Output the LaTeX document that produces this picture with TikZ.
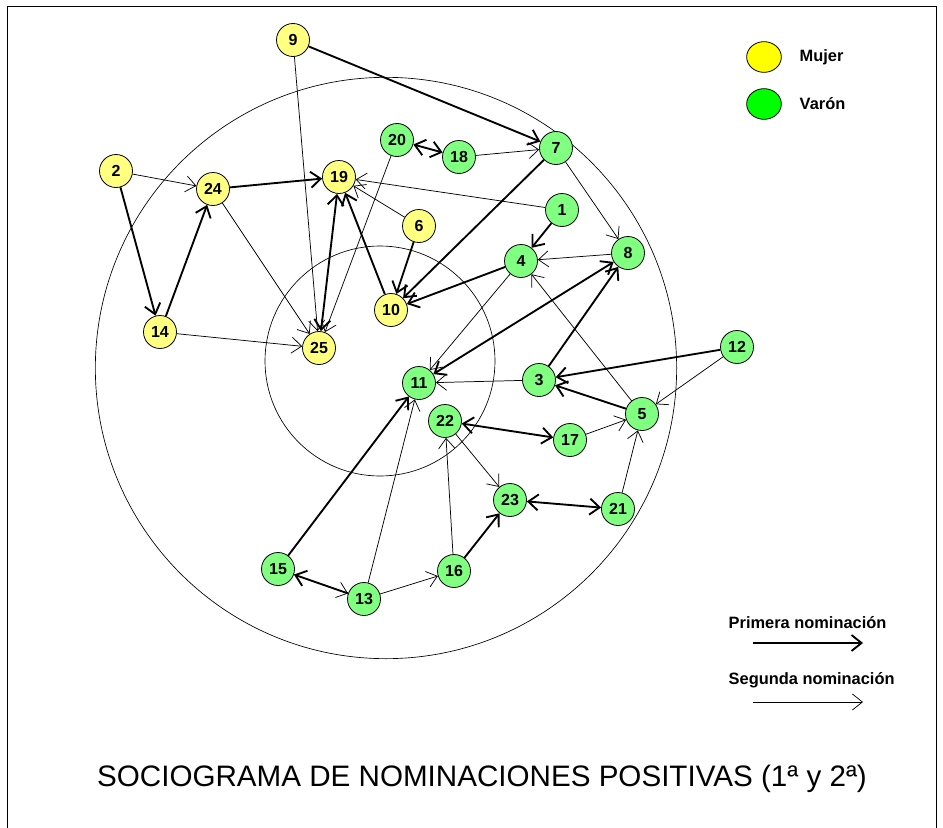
\documentclass[tikz,border=0pt]{standalone}
\usepackage{fontspec}
\setmainfont{Liberation Sans}
\usetikzlibrary{arrows.meta, shapes.geometric}

\begin{document}
\begin{tikzpicture}[x=0.75pt, y=-0.75pt,
    persona/.style={circle, draw=black, line width=0.6pt, minimum size=24.75pt, inner sep=0pt,
        font=\bfseries\fontsize{12}{14}\selectfont},
    mujer/.style={persona, fill=mujerColour},
    varon/.style={persona, fill=varonColour},
    primera/.style={line width=1.4pt, -{Straight Barb[length=7.5pt, width=12pt, line width=1.4pt]}},
    mutua/.style={line width=1.4pt, {Straight Barb[length=7.5pt, width=12pt, line width=1.4pt]}-{Straight Barb[length=7.5pt, width=12pt, line width=1.4pt]}},
    segunda/.style={line width=0.55pt, -{Straight Barb[length=7.5pt, width=12pt, line width=0.55pt]}},
    leyenda/.style={font=\bfseries\fontsize{12.3}{14}\selectfont, anchor=west}]

    \definecolor{mujerColour}{HTML}{FFFF80}
    \definecolor{varonColour}{HTML}{80FF80}
    \definecolor{mujerLegend}{HTML}{FFFF00}
    \definecolor{varonLegend}{HTML}{00FF00}

    \useasboundingbox (0,0) rectangle (943,828);

    % Frame
    \draw[line width=0.6pt] (7,828) -- (7,6) -- (936,6) -- (936,828);

    % Circles of the sociogram
    \draw[line width=0.5pt] (386,368) circle[radius=218pt];
    \draw[line width=0.5pt] (380,361) circle[radius=86.25pt];

    % Girls
    \foreach \n/\x/\y in {9/293/40, 2/116/171, 24/213/189, 19/339/177, 6/419/226,
                          10/391/310, 14/160/332, 25/319/348}
        \node[mujer] (p\n) at (\x,\y) {\n};

    % Boys
    \foreach \n/\x/\y in {7/556/148, 20/397/140, 18/459/157, 1/562/210, 8/628/253,
                          4/521/261, 12/737/347, 11/419/383, 3/539/380, 5/642/414,
                          22/445/421, 17/570/440, 23/510/500, 21/618/509,
                          15/278/569, 13/364/599, 16/454/571}
        \node[varon] (p\n) at (\x,\y) {\n};

    % First nominations
    \foreach \a/\b in {9/7, 7/10, 2/14, 14/24, 24/19, 10/19, 6/10, 1/4, 4/10,
                       3/8, 12/3, 5/3, 15/11, 16/23, 13/15}
        \draw[primera] (p\a) -- (p\b);

    % Mutual first nominations
    \foreach \a/\b in {20/18, 19/25, 8/11, 22/17, 23/21}
        \draw[mutua] (p\a) -- (p\b);

    % Second nominations
    \foreach \a/\b in {9/25, 18/7, 20/25, 7/8, 2/24, 24/25, 14/25, 6/19, 1/19,
                       8/4, 4/11, 5/4, 3/11, 12/5, 17/5, 22/23, 16/22, 13/11,
                       13/16, 21/5, 15/13}
        \draw[segunda] (p\a) -- (p\b);

    % Legend
    \node[draw=black, line width=0.6pt, ellipse, fill=mujerLegend, minimum width=26pt, minimum height=23pt, inner sep=0pt] (mujerKey) at (764,57) {};
    \node[draw=black, line width=0.6pt, ellipse, fill=varonLegend, minimum width=26pt, minimum height=23pt, inner sep=0pt] (varonKey) at (764,104) {};
    \node[leyenda] (mujerText) at (795,57) {Mujer};
    \node[leyenda] (varonText) at (795,104) {Varón};

    \node[leyenda] (primeraText) at (724,623) {Primera nominación};
    \coordinate (primeraA) at (753,643);
    \coordinate (primeraB) at (863,643);
    \draw[primera] (primeraA) -- (primeraB);

    \node[leyenda] (segundaText) at (724,680) {Segunda nominación};
    \coordinate (segundaA) at (753,702);
    \coordinate (segundaB) at (863,702);
    \draw[segunda] (segundaA) -- (segundaB);

    % Title
    \node[font=\fontsize{22.2}{26}\selectfont] (titulo) at (482,779) {SOCIOGRAMA DE NOMINACIONES POSITIVAS (1ª y 2ª)};

\end{tikzpicture}
\end{document}
